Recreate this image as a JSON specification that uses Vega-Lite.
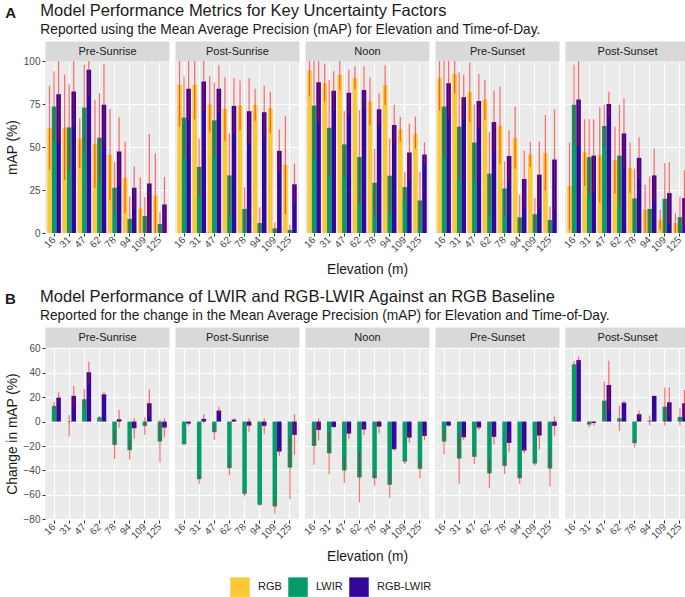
{
  "$schema": "https://vega.github.io/schema/vega-lite/v6.json",
  "padding": {"left": 5, "top": 2, "right": 0, "bottom": 0},
  "background": "white",
  "datasets": {
    "a": [
      {"t":"Pre-Sunrise","e":16,"s":"RGB","v":61,"lo":36.8,"hi":85.6},
      {"t":"Pre-Sunrise","e":16,"s":"LWIR","v":73.5,"lo":53,"hi":94},
      {"t":"Pre-Sunrise","e":16,"s":"RGB-LWIR","v":80.7,"lo":53,"hi":108},
      {"t":"Pre-Sunrise","e":31,"s":"RGB","v":61.4,"lo":31,"hi":92},
      {"t":"Pre-Sunrise","e":31,"s":"LWIR","v":61.4,"lo":36.5,"hi":86.5},
      {"t":"Pre-Sunrise","e":31,"s":"RGB-LWIR","v":82.3,"lo":62,"hi":102},
      {"t":"Pre-Sunrise","e":47,"s":"RGB","v":54.8,"lo":37.6,"hi":66.7},
      {"t":"Pre-Sunrise","e":47,"s":"LWIR","v":72.9,"lo":48.1,"hi":97.9},
      {"t":"Pre-Sunrise","e":47,"s":"RGB-LWIR","v":94.9,"lo":80,"hi":110},
      {"t":"Pre-Sunrise","e":62,"s":"RGB","v":51.9,"lo":26.3,"hi":77.4},
      {"t":"Pre-Sunrise","e":62,"s":"LWIR","v":55.4,"lo":29.6,"hi":81.3},
      {"t":"Pre-Sunrise","e":62,"s":"RGB-LWIR","v":74.5,"lo":50.5,"hi":98.2},
      {"t":"Pre-Sunrise","e":78,"s":"RGB","v":45.4,"lo":18.9,"hi":72.1},
      {"t":"Pre-Sunrise","e":78,"s":"LWIR","v":26.3,"lo":11.1,"hi":41.3},
      {"t":"Pre-Sunrise","e":78,"s":"RGB-LWIR","v":47.4,"lo":27.7,"hi":67.3},
      {"t":"Pre-Sunrise","e":94,"s":"RGB","v":32.2,"lo":11.7,"hi":53},
      {"t":"Pre-Sunrise","e":94,"s":"LWIR","v":8.2,"lo":-5,"hi":21.2},
      {"t":"Pre-Sunrise","e":94,"s":"RGB-LWIR","v":26.3,"lo":14,"hi":38.8},
      {"t":"Pre-Sunrise","e":109,"s":"RGB","v":14.2,"lo":-4,"hi":32.2},
      {"t":"Pre-Sunrise","e":109,"s":"LWIR","v":9.9,"lo":-1,"hi":20.9},
      {"t":"Pre-Sunrise","e":109,"s":"RGB-LWIR","v":28.8,"lo":0,"hi":57.5},
      {"t":"Pre-Sunrise","e":125,"s":"RGB","v":21.8,"lo":-2,"hi":46.2},
      {"t":"Pre-Sunrise","e":125,"s":"LWIR","v":5.3,"lo":-2,"hi":12.1},
      {"t":"Pre-Sunrise","e":125,"s":"RGB-LWIR","v":16.6,"lo":0.5,"hi":32.6},
      {"t":"Post-Sunrise","e":16,"s":"RGB","v":86.2,"lo":61.8,"hi":110},
      {"t":"Post-Sunrise","e":16,"s":"LWIR","v":67.1,"lo":43.3,"hi":91},
      {"t":"Post-Sunrise","e":16,"s":"RGB-LWIR","v":83.8,"lo":65.7,"hi":104},
      {"t":"Post-Sunrise","e":31,"s":"RGB","v":86.2,"lo":66.1,"hi":106},
      {"t":"Post-Sunrise","e":31,"s":"LWIR","v":38.4,"lo":21.8,"hi":55},
      {"t":"Post-Sunrise","e":31,"s":"RGB-LWIR","v":88.1,"lo":71.5,"hi":104},
      {"t":"Post-Sunrise","e":47,"s":"RGB","v":74.9,"lo":58.5,"hi":91.4},
      {"t":"Post-Sunrise","e":47,"s":"LWIR","v":65.5,"lo":44.2,"hi":87.5},
      {"t":"Post-Sunrise","e":47,"s":"RGB-LWIR","v":83.8,"lo":70.2,"hi":97.5},
      {"t":"Post-Sunrise","e":62,"s":"RGB","v":72.1,"lo":53.6,"hi":90.6},
      {"t":"Post-Sunrise","e":62,"s":"LWIR","v":33.5,"lo":9.6,"hi":57.9},
      {"t":"Post-Sunrise","e":62,"s":"RGB-LWIR","v":73.9,"lo":57.9,"hi":90.1},
      {"t":"Post-Sunrise","e":78,"s":"RGB","v":74.1,"lo":59.8,"hi":88.5},
      {"t":"Post-Sunrise","e":78,"s":"LWIR","v":14,"lo":1.4,"hi":26.7},
      {"t":"Post-Sunrise","e":78,"s":"RGB-LWIR","v":70.8,"lo":52,"hi":90.1},
      {"t":"Post-Sunrise","e":94,"s":"RGB","v":74.5,"lo":65.3,"hi":83.8},
      {"t":"Post-Sunrise","e":94,"s":"LWIR","v":5.8,"lo":-3,"hi":15},
      {"t":"Post-Sunrise","e":94,"s":"RGB-LWIR","v":70.2,"lo":55,"hi":85.6},
      {"t":"Post-Sunrise","e":109,"s":"RGB","v":72.5,"lo":58.3,"hi":82.1},
      {"t":"Post-Sunrise","e":109,"s":"LWIR","v":2.7,"lo":-1,"hi":6.2},
      {"t":"Post-Sunrise","e":109,"s":"RGB-LWIR","v":47.8,"lo":35.5,"hi":60.2},
      {"t":"Post-Sunrise","e":125,"s":"RGB","v":39.6,"lo":11.1,"hi":68},
      {"t":"Post-Sunrise","e":125,"s":"LWIR","v":1.8,"lo":-1,"hi":4.9},
      {"t":"Post-Sunrise","e":125,"s":"RGB-LWIR","v":28.3,"lo":16.6,"hi":40.4},
      {"t":"Noon","e":16,"s":"RGB","v":94.5,"lo":79.3,"hi":110},
      {"t":"Noon","e":16,"s":"LWIR","v":74.1,"lo":43.3,"hi":105},
      {"t":"Noon","e":16,"s":"RGB-LWIR","v":87.7,"lo":63.7,"hi":112},
      {"t":"Noon","e":31,"s":"RGB","v":87.1,"lo":76.4,"hi":98.4},
      {"t":"Noon","e":31,"s":"LWIR","v":61.2,"lo":33.5,"hi":89.1},
      {"t":"Noon","e":31,"s":"RGB-LWIR","v":82.7,"lo":71.5,"hi":94},
      {"t":"Noon","e":47,"s":"RGB","v":91.8,"lo":83.2,"hi":101},
      {"t":"Noon","e":47,"s":"LWIR","v":51.5,"lo":32.6,"hi":71},
      {"t":"Noon","e":47,"s":"RGB-LWIR","v":81.5,"lo":68.6,"hi":94.9},
      {"t":"Noon","e":62,"s":"RGB","v":90.1,"lo":83.6,"hi":96.9},
      {"t":"Noon","e":62,"s":"LWIR","v":44.2,"lo":17,"hi":71.5},
      {"t":"Noon","e":62,"s":"RGB-LWIR","v":83.2,"lo":72.5,"hi":96.9},
      {"t":"Noon","e":78,"s":"RGB","v":76.4,"lo":62.8,"hi":90.4},
      {"t":"Noon","e":78,"s":"LWIR","v":29.2,"lo":10.1,"hi":49.1},
      {"t":"Noon","e":78,"s":"RGB-LWIR","v":71.9,"lo":62.8,"hi":81.3},
      {"t":"Noon","e":94,"s":"RGB","v":86,"lo":74.5,"hi":97.5},
      {"t":"Noon","e":94,"s":"LWIR","v":33.3,"lo":11.7,"hi":55},
      {"t":"Noon","e":94,"s":"RGB-LWIR","v":62.8,"lo":51.1,"hi":74.5},
      {"t":"Noon","e":109,"s":"RGB","v":60.2,"lo":53,"hi":67.6},
      {"t":"Noon","e":109,"s":"LWIR","v":26.7,"lo":18.3,"hi":35.5},
      {"t":"Noon","e":109,"s":"RGB-LWIR","v":46.8,"lo":30.6,"hi":63.7},
      {"t":"Noon","e":125,"s":"RGB","v":57.9,"lo":49.1,"hi":67.6},
      {"t":"Noon","e":125,"s":"LWIR","v":18.9,"lo":2.3,"hi":35.5},
      {"t":"Noon","e":125,"s":"RGB-LWIR","v":45.6,"lo":39.4,"hi":52.8},
      {"t":"Pre-Sunset","e":16,"s":"RGB","v":90.1,"lo":71.2,"hi":109},
      {"t":"Pre-Sunset","e":16,"s":"LWIR","v":73.5,"lo":44.2,"hi":102},
      {"t":"Pre-Sunset","e":16,"s":"RGB-LWIR","v":87.1,"lo":66.7,"hi":107},
      {"t":"Pre-Sunset","e":31,"s":"RGB","v":92.4,"lo":81.3,"hi":103},
      {"t":"Pre-Sunset","e":31,"s":"LWIR","v":61.8,"lo":30.6,"hi":93.4},
      {"t":"Pre-Sunset","e":31,"s":"RGB-LWIR","v":78.9,"lo":66.1,"hi":92},
      {"t":"Pre-Sunset","e":47,"s":"RGB","v":81.9,"lo":64.7,"hi":99.2},
      {"t":"Pre-Sunset","e":47,"s":"LWIR","v":52.6,"lo":30.6,"hi":74.9},
      {"t":"Pre-Sunset","e":47,"s":"RGB-LWIR","v":76.8,"lo":61.2,"hi":92.4},
      {"t":"Pre-Sunset","e":62,"s":"RGB","v":77.4,"lo":65.7,"hi":89.1},
      {"t":"Pre-Sunset","e":62,"s":"LWIR","v":34.5,"lo":10.1,"hi":58.9},
      {"t":"Pre-Sunset","e":62,"s":"RGB-LWIR","v":64.5,"lo":46.2,"hi":82.8},
      {"t":"Pre-Sunset","e":78,"s":"RGB","v":62.4,"lo":40.4,"hi":85.2},
      {"t":"Pre-Sunset","e":78,"s":"LWIR","v":25.9,"lo":10.1,"hi":41.7},
      {"t":"Pre-Sunset","e":78,"s":"RGB-LWIR","v":44.8,"lo":30,"hi":59.8},
      {"t":"Pre-Sunset","e":94,"s":"RGB","v":55.4,"lo":37.4,"hi":73.5},
      {"t":"Pre-Sunset","e":94,"s":"LWIR","v":9.2,"lo":-4,"hi":22.2},
      {"t":"Pre-Sunset","e":94,"s":"RGB-LWIR","v":31.4,"lo":15,"hi":47.8},
      {"t":"Pre-Sunset","e":109,"s":"RGB","v":45.6,"lo":38.4,"hi":53},
      {"t":"Pre-Sunset","e":109,"s":"LWIR","v":10.9,"lo":1.4,"hi":20.5},
      {"t":"Pre-Sunset","e":109,"s":"RGB-LWIR","v":33.9,"lo":15,"hi":53},
      {"t":"Pre-Sunset","e":125,"s":"RGB","v":46.4,"lo":24.8,"hi":68.6},
      {"t":"Pre-Sunset","e":125,"s":"LWIR","v":7.6,"lo":-0.2,"hi":15.4},
      {"t":"Pre-Sunset","e":125,"s":"RGB-LWIR","v":42.7,"lo":13.1,"hi":71.9},
      {"t":"Post-Sunset","e":16,"s":"RGB","v":27.3,"lo":1.8,"hi":52.6},
      {"t":"Post-Sunset","e":16,"s":"LWIR","v":74.5,"lo":51.1,"hi":97.9},
      {"t":"Post-Sunset","e":16,"s":"RGB-LWIR","v":77.6,"lo":50.1,"hi":105},
      {"t":"Post-Sunset","e":31,"s":"RGB","v":46.8,"lo":27.3,"hi":66.1},
      {"t":"Post-Sunset","e":31,"s":"LWIR","v":44.1,"lo":22.2,"hi":66.1},
      {"t":"Post-Sunset","e":31,"s":"RGB-LWIR","v":45,"lo":23.8,"hi":66.1},
      {"t":"Post-Sunset","e":47,"s":"RGB","v":45.2,"lo":17.5,"hi":73.1},
      {"t":"Post-Sunset","e":47,"s":"LWIR","v":62.2,"lo":50.1,"hi":74.5},
      {"t":"Post-Sunset","e":47,"s":"RGB-LWIR","v":75,"lo":67.6,"hi":82.3},
      {"t":"Post-Sunset","e":62,"s":"RGB","v":42.3,"lo":22.8,"hi":61.8},
      {"t":"Post-Sunset","e":62,"s":"LWIR","v":45,"lo":15.4,"hi":74.5},
      {"t":"Post-Sunset","e":62,"s":"RGB-LWIR","v":57.9,"lo":37.4,"hi":78.4},
      {"t":"Post-Sunset","e":78,"s":"RGB","v":38,"lo":23.4,"hi":52.6},
      {"t":"Post-Sunset","e":78,"s":"LWIR","v":20.1,"lo":2.3,"hi":37.4},
      {"t":"Post-Sunset","e":78,"s":"RGB-LWIR","v":43.7,"lo":31.6,"hi":55.6},
      {"t":"Post-Sunset","e":94,"s":"RGB","v":13.5,"lo":-1,"hi":28.1},
      {"t":"Post-Sunset","e":94,"s":"LWIR","v":14,"lo":-5,"hi":32.9},
      {"t":"Post-Sunset","e":94,"s":"RGB-LWIR","v":33.5,"lo":17.9,"hi":49.1},
      {"t":"Post-Sunset","e":109,"s":"RGB","v":7.8,"lo":2,"hi":13.5},
      {"t":"Post-Sunset","e":109,"s":"LWIR","v":19.9,"lo":-1,"hi":40.7},
      {"t":"Post-Sunset","e":109,"s":"RGB-LWIR","v":23.2,"lo":5.3,"hi":41.3},
      {"t":"Post-Sunset","e":125,"s":"RGB","v":5.7,"lo":0,"hi":11.5},
      {"t":"Post-Sunset","e":125,"s":"LWIR","v":9.2,"lo":-3,"hi":21.2},
      {"t":"Post-Sunset","e":125,"s":"RGB-LWIR","v":20.3,"lo":4.3,"hi":36.5}
    ],
    "b": [
      {"t":"Pre-Sunrise","e":16,"s":"LWIR","v":12.8,"lo":8.7,"hi":16.3},
      {"t":"Pre-Sunrise","e":16,"s":"RGB-LWIR","v":19.6,"lo":15.8,"hi":23.9},
      {"t":"Pre-Sunrise","e":31,"s":"LWIR","v":-0.5,"lo":-12.2,"hi":5.4},
      {"t":"Pre-Sunrise","e":31,"s":"RGB-LWIR","v":21,"lo":12.8,"hi":29.1},
      {"t":"Pre-Sunrise","e":47,"s":"LWIR","v":18.2,"lo":10.1,"hi":26.7},
      {"t":"Pre-Sunrise","e":47,"s":"RGB-LWIR","v":40.3,"lo":31.3,"hi":49},
      {"t":"Pre-Sunrise","e":62,"s":"LWIR","v":3.5,"lo":2.7,"hi":4.6},
      {"t":"Pre-Sunrise","e":62,"s":"RGB-LWIR","v":22.3,"lo":20.4,"hi":24.5},
      {"t":"Pre-Sunrise","e":78,"s":"LWIR","v":-19,"lo":-30.5,"hi":-6.8},
      {"t":"Pre-Sunrise","e":78,"s":"RGB-LWIR","v":1.9,"lo":-4.9,"hi":9.5},
      {"t":"Pre-Sunrise","e":94,"s":"LWIR","v":-23.4,"lo":-31.3,"hi":-15},
      {"t":"Pre-Sunrise","e":94,"s":"RGB-LWIR","v":-5.4,"lo":-14.1,"hi":2.7},
      {"t":"Pre-Sunrise","e":109,"s":"LWIR","v":-3.5,"lo":-10.9,"hi":3.5},
      {"t":"Pre-Sunrise","e":109,"s":"RGB-LWIR","v":15,"lo":4.1,"hi":26.4},
      {"t":"Pre-Sunrise","e":125,"s":"LWIR","v":-16.3,"lo":-33.5,"hi":1.4},
      {"t":"Pre-Sunrise","e":125,"s":"RGB-LWIR","v":-4.9,"lo":-12.8,"hi":2.7},
      {"t":"Post-Sunrise","e":16,"s":"LWIR","v":-18.5,"lo":-19.3,"hi":-17.7},
      {"t":"Post-Sunrise","e":16,"s":"RGB-LWIR","v":-1.6,"lo":-3.5,"hi":-0.5},
      {"t":"Post-Sunrise","e":31,"s":"LWIR","v":-47.1,"lo":-50.9,"hi":-43.5},
      {"t":"Post-Sunrise","e":31,"s":"RGB-LWIR","v":2.2,"lo":-1.4,"hi":6},
      {"t":"Post-Sunrise","e":47,"s":"LWIR","v":-8.7,"lo":-15,"hi":-2.7},
      {"t":"Post-Sunrise","e":47,"s":"RGB-LWIR","v":9,"lo":5.4,"hi":12.2},
      {"t":"Post-Sunrise","e":62,"s":"LWIR","v":-38.1,"lo":-44.1,"hi":-32.7},
      {"t":"Post-Sunrise","e":62,"s":"RGB-LWIR","v":1.6,"lo":0.8,"hi":2.7},
      {"t":"Post-Sunrise","e":78,"s":"LWIR","v":-59,"lo":-61.2,"hi":-57.1},
      {"t":"Post-Sunrise","e":78,"s":"RGB-LWIR","v":-3.3,"lo":-8.7,"hi":2.7},
      {"t":"Post-Sunrise","e":94,"s":"LWIR","v":-68,"lo":-68.8,"hi":-67.2},
      {"t":"Post-Sunrise","e":94,"s":"RGB-LWIR","v":-3.5,"lo":-10.1,"hi":2.7},
      {"t":"Post-Sunrise","e":109,"s":"LWIR","v":-69.4,"lo":-75.4,"hi":-63.9},
      {"t":"Post-Sunrise","e":109,"s":"RGB-LWIR","v":-24.5,"lo":-28,"hi":-21},
      {"t":"Post-Sunrise","e":125,"s":"LWIR","v":-37.6,"lo":-63.4,"hi":-11.4},
      {"t":"Post-Sunrise","e":125,"s":"RGB-LWIR","v":-10.9,"lo":-27.2,"hi":6},
      {"t":"Noon","e":16,"s":"LWIR","v":-19.9,"lo":-35.4,"hi":-4.6},
      {"t":"Noon","e":16,"s":"RGB-LWIR","v":-6.8,"lo":-15.5,"hi":2.7},
      {"t":"Noon","e":31,"s":"LWIR","v":-25.9,"lo":-43,"hi":-8.7},
      {"t":"Noon","e":31,"s":"RGB-LWIR","v":-4.4,"lo":-5.2,"hi":-3.5},
      {"t":"Noon","e":47,"s":"LWIR","v":-40,"lo":-50.3,"hi":-29.4},
      {"t":"Noon","e":47,"s":"RGB-LWIR","v":-9.8,"lo":-14.4,"hi":-5.4},
      {"t":"Noon","e":62,"s":"LWIR","v":-45.7,"lo":-66.1,"hi":-25},
      {"t":"Noon","e":62,"s":"RGB-LWIR","v":-6.5,"lo":-10.9,"hi":-2.7},
      {"t":"Noon","e":78,"s":"LWIR","v":-46.3,"lo":-52.5,"hi":-40.8},
      {"t":"Noon","e":78,"s":"RGB-LWIR","v":-4.1,"lo":-9.5,"hi":0.8},
      {"t":"Noon","e":94,"s":"LWIR","v":-51.7,"lo":-62.6,"hi":-41.4},
      {"t":"Noon","e":94,"s":"RGB-LWIR","v":-22.6,"lo":-23.9,"hi":-21.2},
      {"t":"Noon","e":109,"s":"LWIR","v":-32.7,"lo":-34.6,"hi":-31.3},
      {"t":"Noon","e":109,"s":"RGB-LWIR","v":-13.1,"lo":-17.4,"hi":-8.7},
      {"t":"Noon","e":125,"s":"LWIR","v":-38.6,"lo":-46.3,"hi":-31.3},
      {"t":"Noon","e":125,"s":"RGB-LWIR","v":-11.7,"lo":-15,"hi":-8.7},
      {"t":"Pre-Sunset","e":16,"s":"LWIR","v":-16.3,"lo":-26.7,"hi":-6.8},
      {"t":"Pre-Sunset","e":16,"s":"RGB-LWIR","v":-3.3,"lo":-4.1,"hi":-2.2},
      {"t":"Pre-Sunset","e":31,"s":"LWIR","v":-30.2,"lo":-50.9,"hi":-9.5},
      {"t":"Pre-Sunset","e":31,"s":"RGB-LWIR","v":-12.8,"lo":-15,"hi":-10.9},
      {"t":"Pre-Sunset","e":47,"s":"LWIR","v":-28.8,"lo":-34.6,"hi":-23.7},
      {"t":"Pre-Sunset","e":47,"s":"RGB-LWIR","v":-4.9,"lo":-6.8,"hi":-3.3},
      {"t":"Pre-Sunset","e":62,"s":"LWIR","v":-42.4,"lo":-54.4,"hi":-30.5},
      {"t":"Pre-Sunset","e":62,"s":"RGB-LWIR","v":-12.5,"lo":-18.5,"hi":-6.8},
      {"t":"Pre-Sunset","e":78,"s":"LWIR","v":-36.2,"lo":-43,"hi":-29.9},
      {"t":"Pre-Sunset","e":78,"s":"RGB-LWIR","v":-17.4,"lo":-25,"hi":-10.1},
      {"t":"Pre-Sunset","e":94,"s":"LWIR","v":-46.3,"lo":-51.2,"hi":-41.4},
      {"t":"Pre-Sunset","e":94,"s":"RGB-LWIR","v":-23.7,"lo":-25.9,"hi":-21},
      {"t":"Pre-Sunset","e":109,"s":"LWIR","v":-34.3,"lo":-36.2,"hi":-32.7},
      {"t":"Pre-Sunset","e":109,"s":"RGB-LWIR","v":-11.4,"lo":-23.1,"hi":0},
      {"t":"Pre-Sunset","e":125,"s":"LWIR","v":-38.4,"lo":-53.1,"hi":-23.9},
      {"t":"Pre-Sunset","e":125,"s":"RGB-LWIR","v":-3.5,"lo":-11.4,"hi":4.1},
      {"t":"Post-Sunset","e":16,"s":"LWIR","v":46.8,"lo":44.9,"hi":49.5},
      {"t":"Post-Sunset","e":16,"s":"RGB-LWIR","v":50.3,"lo":47.6,"hi":53.1},
      {"t":"Post-Sunset","e":31,"s":"LWIR","v":-2.4,"lo":-4.9,"hi":-0.3},
      {"t":"Post-Sunset","e":31,"s":"RGB-LWIR","v":-1.1,"lo":-3.3,"hi":0},
      {"t":"Post-Sunset","e":47,"s":"LWIR","v":17.1,"lo":1.4,"hi":32.7},
      {"t":"Post-Sunset","e":47,"s":"RGB-LWIR","v":29.9,"lo":9.5,"hi":49.8},
      {"t":"Post-Sunset","e":62,"s":"LWIR","v":2.7,"lo":-7.6,"hi":13.1},
      {"t":"Post-Sunset","e":62,"s":"RGB-LWIR","v":15.5,"lo":14.1,"hi":17.1},
      {"t":"Post-Sunset","e":78,"s":"LWIR","v":-17.7,"lo":-21.2,"hi":-14.1},
      {"t":"Post-Sunset","e":78,"s":"RGB-LWIR","v":6,"lo":2.7,"hi":9},
      {"t":"Post-Sunset","e":94,"s":"LWIR","v":0.8,"lo":-3.3,"hi":4.9},
      {"t":"Post-Sunset","e":94,"s":"RGB-LWIR","v":21,"lo":20.1,"hi":21.2},
      {"t":"Post-Sunset","e":109,"s":"LWIR","v":12.2,"lo":-3.5,"hi":27.8},
      {"t":"Post-Sunset","e":109,"s":"RGB-LWIR","v":15.8,"lo":3.5,"hi":27.8},
      {"t":"Post-Sunset","e":125,"s":"LWIR","v":3.8,"lo":-3.3,"hi":10.9},
      {"t":"Post-Sunset","e":125,"s":"RGB-LWIR","v":15,"lo":3.5,"hi":25.9}
    ]
  },
  "vconcat": [
    {
      "title": {"text": "A", "anchor": "start", "fontWeight": "bold", "fontSize": 15, "dy": 18, "offset": 0},
      "vconcat": [
        {
          "data": {"name": "a"},
          "title": {"text": "Model Performance Metrics for Key Uncertainty Factors", "subtitle": "Reported using the Mean Average Precision (mAP) for Elevation and Time-of-Day.", "anchor": "start", "frame": "bounds", "dx": 35, "offset": 8},
          "bounds": "flush",
          "spacing": 6,
          "hconcat": [
            {"width": 124, "height": 172, "transform": [{"filter": "datum.t == 'Pre-Sunrise'"}],
             "layer": [
              {"mark": "bar", "encoding": {
                "x": {"field": "e", "type": "ordinal", "scale": {"paddingInner": 0.1, "paddingOuter": 0.15}, "axis": {"title": null}},
                "xOffset": {"field": "s", "type": "nominal", "sort": ["RGB","LWIR","RGB-LWIR"]},
                "y": {"field": "v", "type": "quantitative", "scale": {"domain": [0, 100], "nice": false}, "axis": {"title": "mAP (%)", "values": [0, 25, 50, 75, 100]}},
                "color": {"field": "s", "type": "nominal", "scale": {"domain": ["RGB","LWIR","RGB-LWIR"], "range": ["#FDC835","#079B6C","#34079C"]}, "legend": {"title": null}}}},
              {"mark": {"type": "rule", "color": "red", "opacity": 0.55, "strokeWidth": 1.2, "clip": true}, "encoding": {
                "x": {"field": "e", "type": "ordinal", "axis": {"orient": "top", "domain": true, "domainWidth": 20, "domainColor": "#D9D9D9", "domainCap": "butt", "ticks": false, "labels": false, "grid": false, "offset": 10, "title": "Pre-Sunrise", "titleFontSize": 11, "titleFontWeight": "normal", "titleColor": "#1A1A1A", "titleBaseline": "middle", "titleY": 0}},
                "xOffset": {"field": "s", "type": "nominal", "sort": ["RGB","LWIR","RGB-LWIR"]},
                "y": {"field": "lo", "type": "quantitative", "axis": {"values": [12.5, 37.5, 62.5, 87.5], "gridWidth": 0.5, "labels": false, "ticks": false, "title": null}},
                "y2": {"field": "hi"}}}
             ],
             "resolve": {"axis": {"x": "independent", "y": "independent"}}},
            {"width": 124, "height": 172, "transform": [{"filter": "datum.t == 'Post-Sunrise'"}],
             "layer": [
              {"mark": "bar", "encoding": {
                "x": {"field": "e", "type": "ordinal", "scale": {"paddingInner": 0.1, "paddingOuter": 0.15}, "axis": {"title": null}},
                "xOffset": {"field": "s", "type": "nominal", "sort": ["RGB","LWIR","RGB-LWIR"]},
                "y": {"field": "v", "type": "quantitative", "scale": {"domain": [0, 100], "nice": false}, "axis": {"title": null, "labels": false, "ticks": false, "values": [0, 25, 50, 75, 100]}},
                "color": {"field": "s", "type": "nominal", "scale": {"domain": ["RGB","LWIR","RGB-LWIR"], "range": ["#FDC835","#079B6C","#34079C"]}, "legend": {"title": null}}}},
              {"mark": {"type": "rule", "color": "red", "opacity": 0.55, "strokeWidth": 1.2, "clip": true}, "encoding": {
                "x": {"field": "e", "type": "ordinal", "axis": {"orient": "top", "domain": true, "domainWidth": 20, "domainColor": "#D9D9D9", "domainCap": "butt", "ticks": false, "labels": false, "grid": false, "offset": 10, "title": "Post-Sunrise", "titleFontSize": 11, "titleFontWeight": "normal", "titleColor": "#1A1A1A", "titleBaseline": "middle", "titleY": 0}},
                "xOffset": {"field": "s", "type": "nominal", "sort": ["RGB","LWIR","RGB-LWIR"]},
                "y": {"field": "lo", "type": "quantitative", "axis": {"values": [12.5, 37.5, 62.5, 87.5], "gridWidth": 0.5, "labels": false, "ticks": false, "title": null}},
                "y2": {"field": "hi"}}}
             ],
             "resolve": {"axis": {"x": "independent", "y": "independent"}}},
            {"width": 124, "height": 172, "transform": [{"filter": "datum.t == 'Noon'"}],
             "layer": [
              {"mark": "bar", "encoding": {
                "x": {"field": "e", "type": "ordinal", "scale": {"paddingInner": 0.1, "paddingOuter": 0.15}, "axis": {"title": "Elevation (m)", "titlePadding": 9}},
                "xOffset": {"field": "s", "type": "nominal", "sort": ["RGB","LWIR","RGB-LWIR"]},
                "y": {"field": "v", "type": "quantitative", "scale": {"domain": [0, 100], "nice": false}, "axis": {"title": null, "labels": false, "ticks": false, "values": [0, 25, 50, 75, 100]}},
                "color": {"field": "s", "type": "nominal", "scale": {"domain": ["RGB","LWIR","RGB-LWIR"], "range": ["#FDC835","#079B6C","#34079C"]}, "legend": {"title": null}}}},
              {"mark": {"type": "rule", "color": "red", "opacity": 0.55, "strokeWidth": 1.2, "clip": true}, "encoding": {
                "x": {"field": "e", "type": "ordinal", "axis": {"orient": "top", "domain": true, "domainWidth": 20, "domainColor": "#D9D9D9", "domainCap": "butt", "ticks": false, "labels": false, "grid": false, "offset": 10, "title": "Noon", "titleFontSize": 11, "titleFontWeight": "normal", "titleColor": "#1A1A1A", "titleBaseline": "middle", "titleY": 0}},
                "xOffset": {"field": "s", "type": "nominal", "sort": ["RGB","LWIR","RGB-LWIR"]},
                "y": {"field": "lo", "type": "quantitative", "axis": {"values": [12.5, 37.5, 62.5, 87.5], "gridWidth": 0.5, "labels": false, "ticks": false, "title": null}},
                "y2": {"field": "hi"}}}
             ],
             "resolve": {"axis": {"x": "independent", "y": "independent"}}},
            {"width": 124, "height": 172, "transform": [{"filter": "datum.t == 'Pre-Sunset'"}],
             "layer": [
              {"mark": "bar", "encoding": {
                "x": {"field": "e", "type": "ordinal", "scale": {"paddingInner": 0.1, "paddingOuter": 0.15}, "axis": {"title": null}},
                "xOffset": {"field": "s", "type": "nominal", "sort": ["RGB","LWIR","RGB-LWIR"]},
                "y": {"field": "v", "type": "quantitative", "scale": {"domain": [0, 100], "nice": false}, "axis": {"title": null, "labels": false, "ticks": false, "values": [0, 25, 50, 75, 100]}},
                "color": {"field": "s", "type": "nominal", "scale": {"domain": ["RGB","LWIR","RGB-LWIR"], "range": ["#FDC835","#079B6C","#34079C"]}, "legend": {"title": null}}}},
              {"mark": {"type": "rule", "color": "red", "opacity": 0.55, "strokeWidth": 1.2, "clip": true}, "encoding": {
                "x": {"field": "e", "type": "ordinal", "axis": {"orient": "top", "domain": true, "domainWidth": 20, "domainColor": "#D9D9D9", "domainCap": "butt", "ticks": false, "labels": false, "grid": false, "offset": 10, "title": "Pre-Sunset", "titleFontSize": 11, "titleFontWeight": "normal", "titleColor": "#1A1A1A", "titleBaseline": "middle", "titleY": 0}},
                "xOffset": {"field": "s", "type": "nominal", "sort": ["RGB","LWIR","RGB-LWIR"]},
                "y": {"field": "lo", "type": "quantitative", "axis": {"values": [12.5, 37.5, 62.5, 87.5], "gridWidth": 0.5, "labels": false, "ticks": false, "title": null}},
                "y2": {"field": "hi"}}}
             ],
             "resolve": {"axis": {"x": "independent", "y": "independent"}}},
            {"width": 124, "height": 172, "transform": [{"filter": "datum.t == 'Post-Sunset'"}],
             "layer": [
              {"mark": "bar", "encoding": {
                "x": {"field": "e", "type": "ordinal", "scale": {"paddingInner": 0.1, "paddingOuter": 0.15}, "axis": {"title": null}},
                "xOffset": {"field": "s", "type": "nominal", "sort": ["RGB","LWIR","RGB-LWIR"]},
                "y": {"field": "v", "type": "quantitative", "scale": {"domain": [0, 100], "nice": false}, "axis": {"title": null, "labels": false, "ticks": false, "values": [0, 25, 50, 75, 100]}},
                "color": {"field": "s", "type": "nominal", "scale": {"domain": ["RGB","LWIR","RGB-LWIR"], "range": ["#FDC835","#079B6C","#34079C"]}, "legend": {"title": null}}}},
              {"mark": {"type": "rule", "color": "red", "opacity": 0.55, "strokeWidth": 1.2, "clip": true}, "encoding": {
                "x": {"field": "e", "type": "ordinal", "axis": {"orient": "top", "domain": true, "domainWidth": 20, "domainColor": "#D9D9D9", "domainCap": "butt", "ticks": false, "labels": false, "grid": false, "offset": 10, "title": "Post-Sunset", "titleFontSize": 11, "titleFontWeight": "normal", "titleColor": "#1A1A1A", "titleBaseline": "middle", "titleY": 0}},
                "xOffset": {"field": "s", "type": "nominal", "sort": ["RGB","LWIR","RGB-LWIR"]},
                "y": {"field": "lo", "type": "quantitative", "axis": {"values": [12.5, 37.5, 62.5, 87.5], "gridWidth": 0.5, "labels": false, "ticks": false, "title": null}},
                "y2": {"field": "hi"}}}
             ],
             "resolve": {"axis": {"x": "independent", "y": "independent"}}}
          ]
        }
      ]
    },
    {
      "title": {"text": "B", "anchor": "start", "fontWeight": "bold", "fontSize": 15, "dy": 18, "offset": 0},
      "vconcat": [
        {
          "data": {"name": "b"},
          "title": {"text": "Model Performance of LWIR and RGB-LWIR Against an RGB Baseline", "subtitle": "Reported for the change in the Mean Average Precision (mAP) for Elevation and Time-of-Day.", "anchor": "start", "frame": "bounds", "dx": 35, "offset": 8},
          "bounds": "flush",
          "spacing": 6,
          "hconcat": [
            {"width": 124, "height": 173, "transform": [{"filter": "datum.t == 'Pre-Sunrise'"}],
             "layer": [
              {"mark": "bar", "encoding": {
                "x": {"field": "e", "type": "ordinal", "scale": {"paddingInner": 0.1, "paddingOuter": 0.15}, "axis": {"title": null}},
                "xOffset": {"field": "s", "type": "nominal", "sort": ["LWIR","RGB-LWIR"]},
                "y": {"field": "v", "type": "quantitative", "scale": {"domain": [-80.5, 61], "nice": false, "zero": false}, "axis": {"title": "Change in mAP (%)", "values": [-80, -60, -40, -20, 0, 20, 40, 60]}},
                "color": {"field": "s", "type": "nominal", "scale": {"domain": ["RGB","LWIR","RGB-LWIR"], "range": ["#FDC835","#079B6C","#34079C"]}, "legend": {"title": null}}}},
              {"mark": {"type": "rule", "color": "red", "opacity": 0.55, "strokeWidth": 1.2, "clip": true}, "encoding": {
                "x": {"field": "e", "type": "ordinal", "axis": {"orient": "top", "domain": true, "domainWidth": 20, "domainColor": "#D9D9D9", "domainCap": "butt", "ticks": false, "labels": false, "grid": false, "offset": 10, "title": "Pre-Sunrise", "titleFontSize": 11, "titleFontWeight": "normal", "titleColor": "#1A1A1A", "titleBaseline": "middle", "titleY": 0}},
                "xOffset": {"field": "s", "type": "nominal", "sort": ["LWIR","RGB-LWIR"]},
                "y": {"field": "lo", "type": "quantitative", "axis": {"values": [-70, -50, -30, -10, 10, 30, 50], "gridWidth": 0.5, "labels": false, "ticks": false, "title": null}},
                "y2": {"field": "hi"}}}
             ],
             "resolve": {"axis": {"x": "independent", "y": "independent"}}},
            {"width": 124, "height": 173, "transform": [{"filter": "datum.t == 'Post-Sunrise'"}],
             "layer": [
              {"mark": "bar", "encoding": {
                "x": {"field": "e", "type": "ordinal", "scale": {"paddingInner": 0.1, "paddingOuter": 0.15}, "axis": {"title": null}},
                "xOffset": {"field": "s", "type": "nominal", "sort": ["LWIR","RGB-LWIR"]},
                "y": {"field": "v", "type": "quantitative", "scale": {"domain": [-80.5, 61], "nice": false, "zero": false}, "axis": {"title": null, "labels": false, "ticks": false, "values": [-80, -60, -40, -20, 0, 20, 40, 60]}},
                "color": {"field": "s", "type": "nominal", "scale": {"domain": ["RGB","LWIR","RGB-LWIR"], "range": ["#FDC835","#079B6C","#34079C"]}, "legend": {"title": null}}}},
              {"mark": {"type": "rule", "color": "red", "opacity": 0.55, "strokeWidth": 1.2, "clip": true}, "encoding": {
                "x": {"field": "e", "type": "ordinal", "axis": {"orient": "top", "domain": true, "domainWidth": 20, "domainColor": "#D9D9D9", "domainCap": "butt", "ticks": false, "labels": false, "grid": false, "offset": 10, "title": "Post-Sunrise", "titleFontSize": 11, "titleFontWeight": "normal", "titleColor": "#1A1A1A", "titleBaseline": "middle", "titleY": 0}},
                "xOffset": {"field": "s", "type": "nominal", "sort": ["LWIR","RGB-LWIR"]},
                "y": {"field": "lo", "type": "quantitative", "axis": {"values": [-70, -50, -30, -10, 10, 30, 50], "gridWidth": 0.5, "labels": false, "ticks": false, "title": null}},
                "y2": {"field": "hi"}}}
             ],
             "resolve": {"axis": {"x": "independent", "y": "independent"}}},
            {"width": 124, "height": 173, "transform": [{"filter": "datum.t == 'Noon'"}],
             "layer": [
              {"mark": "bar", "encoding": {
                "x": {"field": "e", "type": "ordinal", "scale": {"paddingInner": 0.1, "paddingOuter": 0.15}, "axis": {"title": "Elevation (m)", "titlePadding": 9}},
                "xOffset": {"field": "s", "type": "nominal", "sort": ["LWIR","RGB-LWIR"]},
                "y": {"field": "v", "type": "quantitative", "scale": {"domain": [-80.5, 61], "nice": false, "zero": false}, "axis": {"title": null, "labels": false, "ticks": false, "values": [-80, -60, -40, -20, 0, 20, 40, 60]}},
                "color": {"field": "s", "type": "nominal", "scale": {"domain": ["RGB","LWIR","RGB-LWIR"], "range": ["#FDC835","#079B6C","#34079C"]}, "legend": {"title": null}}}},
              {"mark": {"type": "rule", "color": "red", "opacity": 0.55, "strokeWidth": 1.2, "clip": true}, "encoding": {
                "x": {"field": "e", "type": "ordinal", "axis": {"orient": "top", "domain": true, "domainWidth": 20, "domainColor": "#D9D9D9", "domainCap": "butt", "ticks": false, "labels": false, "grid": false, "offset": 10, "title": "Noon", "titleFontSize": 11, "titleFontWeight": "normal", "titleColor": "#1A1A1A", "titleBaseline": "middle", "titleY": 0}},
                "xOffset": {"field": "s", "type": "nominal", "sort": ["LWIR","RGB-LWIR"]},
                "y": {"field": "lo", "type": "quantitative", "axis": {"values": [-70, -50, -30, -10, 10, 30, 50], "gridWidth": 0.5, "labels": false, "ticks": false, "title": null}},
                "y2": {"field": "hi"}}}
             ],
             "resolve": {"axis": {"x": "independent", "y": "independent"}}},
            {"width": 124, "height": 173, "transform": [{"filter": "datum.t == 'Pre-Sunset'"}],
             "layer": [
              {"mark": "bar", "encoding": {
                "x": {"field": "e", "type": "ordinal", "scale": {"paddingInner": 0.1, "paddingOuter": 0.15}, "axis": {"title": null}},
                "xOffset": {"field": "s", "type": "nominal", "sort": ["LWIR","RGB-LWIR"]},
                "y": {"field": "v", "type": "quantitative", "scale": {"domain": [-80.5, 61], "nice": false, "zero": false}, "axis": {"title": null, "labels": false, "ticks": false, "values": [-80, -60, -40, -20, 0, 20, 40, 60]}},
                "color": {"field": "s", "type": "nominal", "scale": {"domain": ["RGB","LWIR","RGB-LWIR"], "range": ["#FDC835","#079B6C","#34079C"]}, "legend": {"title": null}}}},
              {"mark": {"type": "rule", "color": "red", "opacity": 0.55, "strokeWidth": 1.2, "clip": true}, "encoding": {
                "x": {"field": "e", "type": "ordinal", "axis": {"orient": "top", "domain": true, "domainWidth": 20, "domainColor": "#D9D9D9", "domainCap": "butt", "ticks": false, "labels": false, "grid": false, "offset": 10, "title": "Pre-Sunset", "titleFontSize": 11, "titleFontWeight": "normal", "titleColor": "#1A1A1A", "titleBaseline": "middle", "titleY": 0}},
                "xOffset": {"field": "s", "type": "nominal", "sort": ["LWIR","RGB-LWIR"]},
                "y": {"field": "lo", "type": "quantitative", "axis": {"values": [-70, -50, -30, -10, 10, 30, 50], "gridWidth": 0.5, "labels": false, "ticks": false, "title": null}},
                "y2": {"field": "hi"}}}
             ],
             "resolve": {"axis": {"x": "independent", "y": "independent"}}},
            {"width": 124, "height": 173, "transform": [{"filter": "datum.t == 'Post-Sunset'"}],
             "layer": [
              {"mark": "bar", "encoding": {
                "x": {"field": "e", "type": "ordinal", "scale": {"paddingInner": 0.1, "paddingOuter": 0.15}, "axis": {"title": null}},
                "xOffset": {"field": "s", "type": "nominal", "sort": ["LWIR","RGB-LWIR"]},
                "y": {"field": "v", "type": "quantitative", "scale": {"domain": [-80.5, 61], "nice": false, "zero": false}, "axis": {"title": null, "labels": false, "ticks": false, "values": [-80, -60, -40, -20, 0, 20, 40, 60]}},
                "color": {"field": "s", "type": "nominal", "scale": {"domain": ["RGB","LWIR","RGB-LWIR"], "range": ["#FDC835","#079B6C","#34079C"]}, "legend": {"title": null}}}},
              {"mark": {"type": "rule", "color": "red", "opacity": 0.55, "strokeWidth": 1.2, "clip": true}, "encoding": {
                "x": {"field": "e", "type": "ordinal", "axis": {"orient": "top", "domain": true, "domainWidth": 20, "domainColor": "#D9D9D9", "domainCap": "butt", "ticks": false, "labels": false, "grid": false, "offset": 10, "title": "Post-Sunset", "titleFontSize": 11, "titleFontWeight": "normal", "titleColor": "#1A1A1A", "titleBaseline": "middle", "titleY": 0}},
                "xOffset": {"field": "s", "type": "nominal", "sort": ["LWIR","RGB-LWIR"]},
                "y": {"field": "lo", "type": "quantitative", "axis": {"values": [-70, -50, -30, -10, 10, 30, 50], "gridWidth": 0.5, "labels": false, "ticks": false, "title": null}},
                "y2": {"field": "hi"}}}
             ],
             "resolve": {"axis": {"x": "independent", "y": "independent"}}}
          ]
        }
      ]
    }
  ],
  "spacing": 11,
  "resolve": {"scale": {"color": "shared"}, "legend": {"color": "shared"}},
  "config": {
    "font": "Liberation Sans",
    "view": {"fill": "#EBEBEB", "stroke": null},
    "scale": {"offsetBandPaddingInner": 0, "offsetBandPaddingOuter": 0},
    "axis": {"grid": true, "gridColor": "#FFFFFF", "gridWidth": 1.1, "domain": false, "tickColor": "#333333", "tickSize": 3, "labelColor": "#4D4D4D", "labelFontSize": 10, "labelPadding": 2, "titleFontSize": 13.75, "titleFontWeight": "normal", "titleColor": "#1A1A1A", "titlePadding": 4},
    "axisX": {"labelAngle": -45, "labelAlign": "right", "labelBaseline": "middle", "bandPosition": 0.5},
    "title": {"fontSize": 16.5, "fontWeight": "normal", "color": "#1A1A1A", "subtitleFontSize": 13.75, "subtitleColor": "#1A1A1A", "subtitlePadding": 4},
    "legend": {"orient": "none", "legendX": 185, "legendY": 516, "direction": "horizontal", "padding": 0, "symbolType": "square", "symbolSize": 380, "symbolStrokeWidth": 0, "symbolOpacity": 1, "labelFontSize": 11, "labelColor": "#1A1A1A", "columnPadding": 6, "labelOffset": 8}
  }
}
